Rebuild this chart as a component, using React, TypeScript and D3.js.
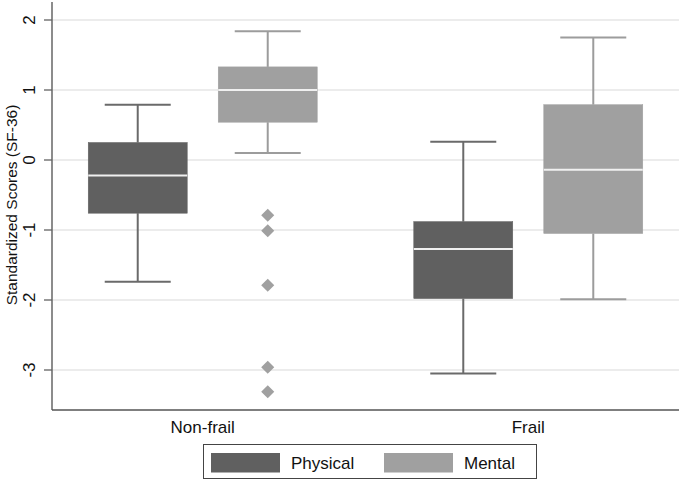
import React from "react";
import * as d3 from "d3";

const groups = ["Non-frail", "Frail"];
const seriesNames = ["Physical", "Mental"];
// [lowerWhisker, q1, median, q3, upperWhisker]
const physicalStats = [
  [-1.74, -0.76, -0.22, 0.25, 0.79],
  [-3.05, -1.98, -1.27, -0.88, 0.26],
];
const mentalStats = [
  [0.1, 0.54, 1.0, 1.33, 1.84],
  [-1.99, -1.05, -0.14, 0.79, 1.75],
];
const mentalOutliersNonFrail = [-0.79, -1.01, -1.79, -2.96, -3.31];
const mentalOutliersFrail: number[] = [];
const yTicks = [-3, -2, -1, 0, 1, 2];

const fills = ["#606060", "#a0a0a0"];
const whiskerColors = ["#6a6a6a", "#9c9c9c"];

export default function App() {
  const W = 685, H = 481;
  const left = 52, right = 679, top = 2, bottom = 410;
  const y = d3.scaleLinear().domain([0, 1]).range([160, 90]);
  const x = d3.scalePoint().domain(groups).range([left, right]).padding(0.463);
  const xs = d3.scalePoint().domain(seriesNames).range([-65, 65]);
  const boxW = 99, capW = 66;
  const stats = [physicalStats, mentalStats];
  const outliers = [[[], []], [mentalOutliersNonFrail, mentalOutliersFrail]];
  const font = "Arial, 'Liberation Sans', Helvetica, sans-serif";

  return (
    <svg width={W} height={H} style={{ position: "absolute", left: 0, top: 0, background: "#fff" }} fontFamily={font}>
      <rect x={0} y={0} width={W} height={H} fill="#fff" />
      {yTicks.map((t) => (
        <g key={t}>
          <line x1={left} x2={right} y1={y(t)} y2={y(t)} stroke="#e6e6e6" strokeWidth={1.5} />
          <line x1={44} x2={left} y1={y(t)} y2={y(t)} stroke="#555" strokeWidth={1.2} />
          <text transform={`translate(35,${y(t)}) rotate(-90)`} textAnchor="middle" fontSize={17} fill="#111">
            {t}
          </text>
        </g>
      ))}
      {seriesNames.map((s, si) =>
        groups.map((g, gi) => {
          const [lo, q1, med, q3, hi] = stats[si][gi];
          const cx = (x(g) as number) + (xs(s) as number);
          const col = whiskerColors[si];
          return (
            <g key={s + g}>
              <line x1={cx} x2={cx} y1={y(hi)} y2={y(q3)} stroke={col} strokeWidth={2} />
              <line x1={cx} x2={cx} y1={y(q1)} y2={y(lo)} stroke={col} strokeWidth={2} />
              <line x1={cx - capW / 2} x2={cx + capW / 2} y1={y(hi)} y2={y(hi)} stroke={col} strokeWidth={2} />
              <line x1={cx - capW / 2} x2={cx + capW / 2} y1={y(lo)} y2={y(lo)} stroke={col} strokeWidth={2} />
              <rect x={cx - boxW / 2} y={y(q3)} width={boxW} height={y(q1) - y(q3)} fill={fills[si]} stroke={fills[si]} strokeWidth={0.5} />
              <line x1={cx - boxW / 2} x2={cx + boxW / 2} y1={y(med)} y2={y(med)} stroke="#f0f0f0" strokeWidth={2} />
              {(outliers[si][gi] as number[]).map((o, oi) => (
                <path key={oi} d={d3.symbol(d3.symbolSquare, 85)() as string} transform={`translate(${cx},${y(o)}) rotate(45)`} fill={fills[si]} />
              ))}
            </g>
          );
        })
      )}
      <line x1={left} x2={left} y1={top} y2={bottom} stroke="#666" strokeWidth={1.5} />
      <line x1={left} x2={right} y1={bottom} y2={bottom} stroke="#555" strokeWidth={1.5} />
      {groups.map((g) => (
        <text key={g} x={x(g) as number} y={433} textAnchor="middle" fontSize={17} fill="#111">
          {g}
        </text>
      ))}
      <text transform={`translate(17,205) rotate(-90)`} textAnchor="middle" fontSize={15.5} fill="#111">
        Standardized Scores (SF-36)
      </text>
      <rect x={203.5} y={444.5} width={333} height={34} fill="#fff" stroke="#444" strokeWidth={1} />
      {seriesNames.map((s, i) => {
        const sx = i === 0 ? 211 : 384;
        return (
          <g key={s}>
            <rect x={sx} y={453} width={69} height={19.5} fill={fills[i]} />
            <text x={sx + 80} y={468.5} fontSize={17} fill="#111">
              {s}
            </text>
          </g>
        );
      })}
    </svg>
  );
}
